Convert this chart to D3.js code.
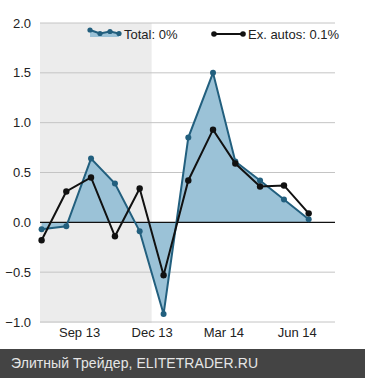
<!DOCTYPE html>
<html>
<head>
<meta charset="utf-8">
<script src="https://cdn.jsdelivr.net/npm/d3@7"></script>
<style>
  body { margin: 0; background: #fff; }
  svg { display: block; font-family: "Liberation Sans", Arial, sans-serif; }
</style>
</head>
<body>
<div id="chart"></div>
<script>
// monthly values, Jul 13 .. Jun 14
const months = ["2013-07", "2013-08", "2013-09", "2013-10", "2013-11", "2013-12",
                "2014-01", "2014-02", "2014-03", "2014-04", "2014-05", "2014-06"];
const totalValues = [-0.07, -0.04, 0.64, 0.39, -0.09, -0.92, 0.85, 1.50, 0.61, 0.42, 0.23, 0.03];
const exAutosValues = [-0.18, 0.31, 0.45, -0.14, 0.34, -0.53, 0.42, 0.93, 0.59, 0.36, 0.37, 0.09];
const yTicks = [-1.0, -0.5, 0.0, 0.5, 1.0, 1.5, 2.0];
const xTickDates = ["2013-09-01", "2013-12-01", "2014-03-01", "2014-06-01"];
const legendLabels = ["Total: 0%", "Ex. autos: 0.1%"];
const footerText = "Элитный Трейдер, ELITETRADER.RU";

const width = 365, height = 378;
const parseMonth = d3.timeParse("%Y-%m");
const parseDay = d3.timeParse("%Y-%m-%d");

const data = months.map((m, i) => {
    const d = parseMonth(m);
    return {date: new Date(d.getFullYear(), d.getMonth(), 16), total: totalValues[i], ex: exAutosValues[i]};
});

const svg = d3.select("#chart").append("svg")
    .attr("width", width)
    .attr("height", height);

const x = d3.scaleTime()
    .domain([new Date(2013, 6, 14), new Date(2014, 6, 19)])
    .range([40, 335]);

const y = d3.scaleLinear()
    .domain([-1, 2])
    .range([322, 23]);

// grey shaded period (before Dec 13)
svg.append("rect")
    .attr("x", x.range()[0])
    .attr("y", y(2))
    .attr("width", x(parseDay("2013-12-01")) - x.range()[0])
    .attr("height", y(-1) - y(2) + 1)
    .attr("fill", "#ececec");

// gridlines + y labels
const yAxis = svg.append("g");
yAxis.selectAll("line")
    .data(yTicks.filter(t => t !== 0))
    .enter().append("line")
    .attr("x1", 40).attr("x2", 335)
    .attr("y1", d => y(d)).attr("y2", d => y(d))
    .attr("stroke", "#c4c4c4")
    .attr("stroke-width", 1);

yAxis.selectAll("text")
    .data(yTicks)
    .enter().append("text")
    .attr("x", 31)
    .attr("y", d => y(d))
    .attr("dy", "0.35em")
    .attr("text-anchor", "end")
    .attr("font-size", "13px")
    .attr("fill", "#222")
    .text(d => d3.format(".1f")(d));

// x labels
svg.append("g")
    .attr("transform", `translate(0,${y(-1)})`)
    .call(d3.axisBottom(x)
        .tickValues(xTickDates.map(parseDay))
        .tickFormat(d3.timeFormat("%b %y"))
        .tickSize(0)
        .tickPadding(6))
    .call(g => g.select(".domain").remove())
    .selectAll("text")
    .attr("font-size", "13px")
    .attr("font-family", "Liberation Sans, Arial, sans-serif")
    .attr("fill", "#222");

// total area
const area = d3.area()
    .x(d => x(d.date))
    .y0(y(0))
    .y1(d => y(d.total));

svg.append("path")
    .datum(data)
    .attr("d", area)
    .attr("fill", "#9bc2d7");

// zero line
svg.append("line")
    .attr("x1", 40).attr("x2", 335)
    .attr("y1", y(0)).attr("y2", y(0))
    .attr("stroke", "#111")
    .attr("stroke-width", 1.2);

const totalLine = d3.line().x(d => x(d.date)).y(d => y(d.total));
const exLine = d3.line().x(d => x(d.date)).y(d => y(d.ex));

svg.append("path")
    .datum(data)
    .attr("d", totalLine)
    .attr("fill", "none")
    .attr("stroke", "#225f7e")
    .attr("stroke-width", 2);

svg.selectAll(".tdot")
    .data(data)
    .enter().append("circle")
    .attr("class", "tdot")
    .attr("cx", d => x(d.date))
    .attr("cy", d => y(d.total))
    .attr("r", 3)
    .attr("fill", "#225f7e");

svg.append("path")
    .datum(data)
    .attr("d", exLine)
    .attr("fill", "none")
    .attr("stroke", "#111")
    .attr("stroke-width", 2);

svg.selectAll(".edot")
    .data(data)
    .enter().append("circle")
    .attr("class", "edot")
    .attr("cx", d => x(d.date))
    .attr("cy", d => y(d.ex))
    .attr("r", 3.2)
    .attr("fill", "#111");

// legend
const legIcon = [[90, 30], [100, 33.5], [110, 31.5], [119, 33.5]];
svg.append("path")
    .attr("d", d3.area().x(d => d[0]).y0(37).y1(d => d[1])(legIcon))
    .attr("fill", "#9bc2d7");
svg.append("path")
    .attr("d", d3.line()(legIcon))
    .attr("fill", "none")
    .attr("stroke", "#225f7e")
    .attr("stroke-width", 2);
svg.selectAll(".ldot")
    .data(legIcon)
    .enter().append("circle")
    .attr("cx", d => d[0]).attr("cy", d => d[1])
    .attr("r", 2.6)
    .attr("fill", "#225f7e");
svg.append("text")
    .attr("x", 124).attr("y", 34)
    .attr("dy", "0.35em")
    .attr("font-size", "13px")
    .attr("fill", "#222")
    .text(legendLabels[0]);

svg.append("line")
    .attr("x1", 214).attr("x2", 243)
    .attr("y1", 34).attr("y2", 34)
    .attr("stroke", "#111")
    .attr("stroke-width", 2);
svg.selectAll(".ledot")
    .data([214, 243])
    .enter().append("circle")
    .attr("cx", d => d).attr("cy", 34)
    .attr("r", 2.8)
    .attr("fill", "#111");
svg.append("text")
    .attr("x", 248).attr("y", 34)
    .attr("dy", "0.35em")
    .attr("font-size", "13px")
    .attr("fill", "#222")
    .text(legendLabels[1]);

// footer
svg.append("rect")
    .attr("x", 0).attr("y", 349)
    .attr("width", width).attr("height", height - 349)
    .attr("fill", "#444");
svg.append("text")
    .attr("x", 11).attr("y", 368)
    .attr("font-size", "14px")
    .attr("fill", "#e6e6e6")
    .attr("textLength", 247)
    .attr("lengthAdjust", "spacing")
    .text(footerText);
</script>
</body>
</html>
